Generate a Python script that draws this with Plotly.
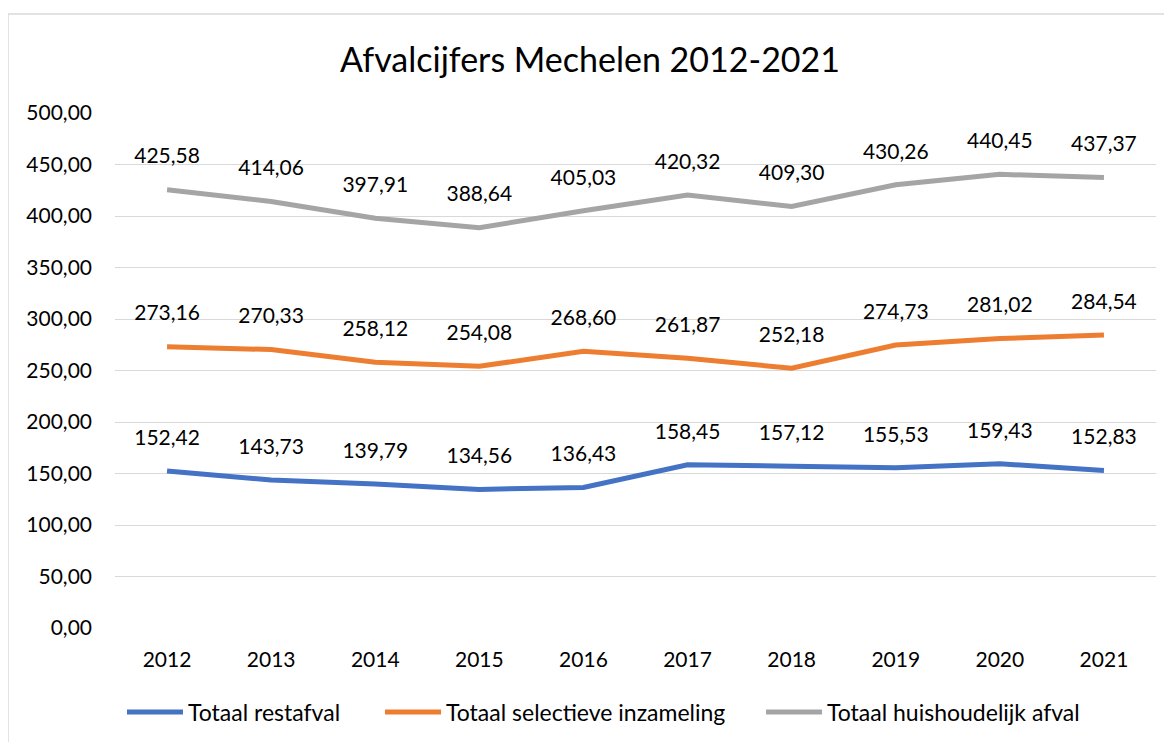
import plotly.graph_objects as go

years = ["2012", "2013", "2014", "2015", "2016", "2017", "2018", "2019", "2020", "2021"]
restafval = [152.42, 143.73, 139.79, 134.56, 136.43, 158.45, 157.12, 155.53, 159.43, 152.83]
selectief = [273.16, 270.33, 258.12, 254.08, 268.60, 261.87, 252.18, 274.73, 281.02, 284.54]
huishoudelijk = [425.58, 414.06, 397.91, 388.64, 405.03, 420.32, 409.30, 430.26, 440.45, 437.37]

series_names = ["Totaal restafval", "Totaal selectieve inzameling", "Totaal huishoudelijk afval"]
series_colors = ["#4472C4", "#ED7D31", "#A5A5A5"]
series_values = [restafval, selectief, huishoudelijk]

# legend entry start positions (paper x) and legend row (paper y)
legend_x = [0.0115, 0.2594, 0.6254]
legend_y = -0.1631
legend_line_len = 0.0538

FONT = "Lato, 'Open Sans', sans-serif"

fig = go.Figure()
for name, color, vals in zip(series_names, series_colors, series_values):
    fig.add_trace(go.Scatter(
        x=years, y=vals, name=name, mode="lines", showlegend=False,
        line=dict(color=color, width=5, shape="linear"),
    ))
for vals in series_values:
    fig.add_trace(go.Scatter(
        x=years, y=vals, mode="markers+text", showlegend=False, hoverinfo="skip",
        marker=dict(size=32, color="rgba(0,0,0,0)"),
        text=[f"{v:.2f}".replace(".", ",") for v in vals],
        textposition="top center",
        textfont=dict(family=FONT, size=21, color="#000000"),
        cliponaxis=False,
    ))

shapes = [
    dict(type="line", xref="paper", yref="paper", x0=-0.1028, x1=1.03, y0=1.192, y1=1.192,
         line=dict(color="#D9D9D9", width=1.5)),
    dict(type="line", xref="paper", yref="paper", x0=-0.1028, x1=-0.1028, y0=-0.25, y1=1.192,
         line=dict(color="#D9D9D9", width=1.5)),
]
annotations = []
for name, color, lx in zip(series_names, series_colors, legend_x):
    shapes.append(dict(type="line", xref="paper", yref="paper",
                       x0=lx, x1=lx + legend_line_len, y0=legend_y, y1=legend_y,
                       line=dict(color=color, width=5)))
    annotations.append(dict(xref="paper", yref="paper", x=lx + legend_line_len + 0.0025,
                            y=legend_y, xanchor="left", yanchor="middle", showarrow=False,
                            text=name, font=dict(family=FONT, size=23, color="#000000")))

fig.update_layout(
    width=1164, height=734,
    paper_bgcolor="white", plot_bgcolor="white",
    margin=dict(l=107, r=16, t=105, b=114),
    separators=",.",
    showlegend=False,
    title=dict(text="Afvalcijfers Mechelen 2012-2021", x=0.5, xanchor="center",
               y=0.929, yanchor="middle",
               font=dict(family=FONT, size=34, color="#000000")),
    font=dict(family=FONT, size=21, color="#000000"),
    xaxis=dict(type="category", range=[-0.5, 9.5], showgrid=False, showline=False,
               ticks="", tickfont=dict(size=21, color="#000000"), ticklabelstandoff=17),
    yaxis=dict(range=[0, 500], dtick=50, tickformat=".2f", showgrid=True,
               gridcolor="#D9D9D9", gridwidth=1, zeroline=False, showline=False,
               ticks="", tickfont=dict(size=21, color="#000000"), ticklabelstandoff=22),
    shapes=shapes,
    annotations=annotations,
)

fig.write_html("out.html")
